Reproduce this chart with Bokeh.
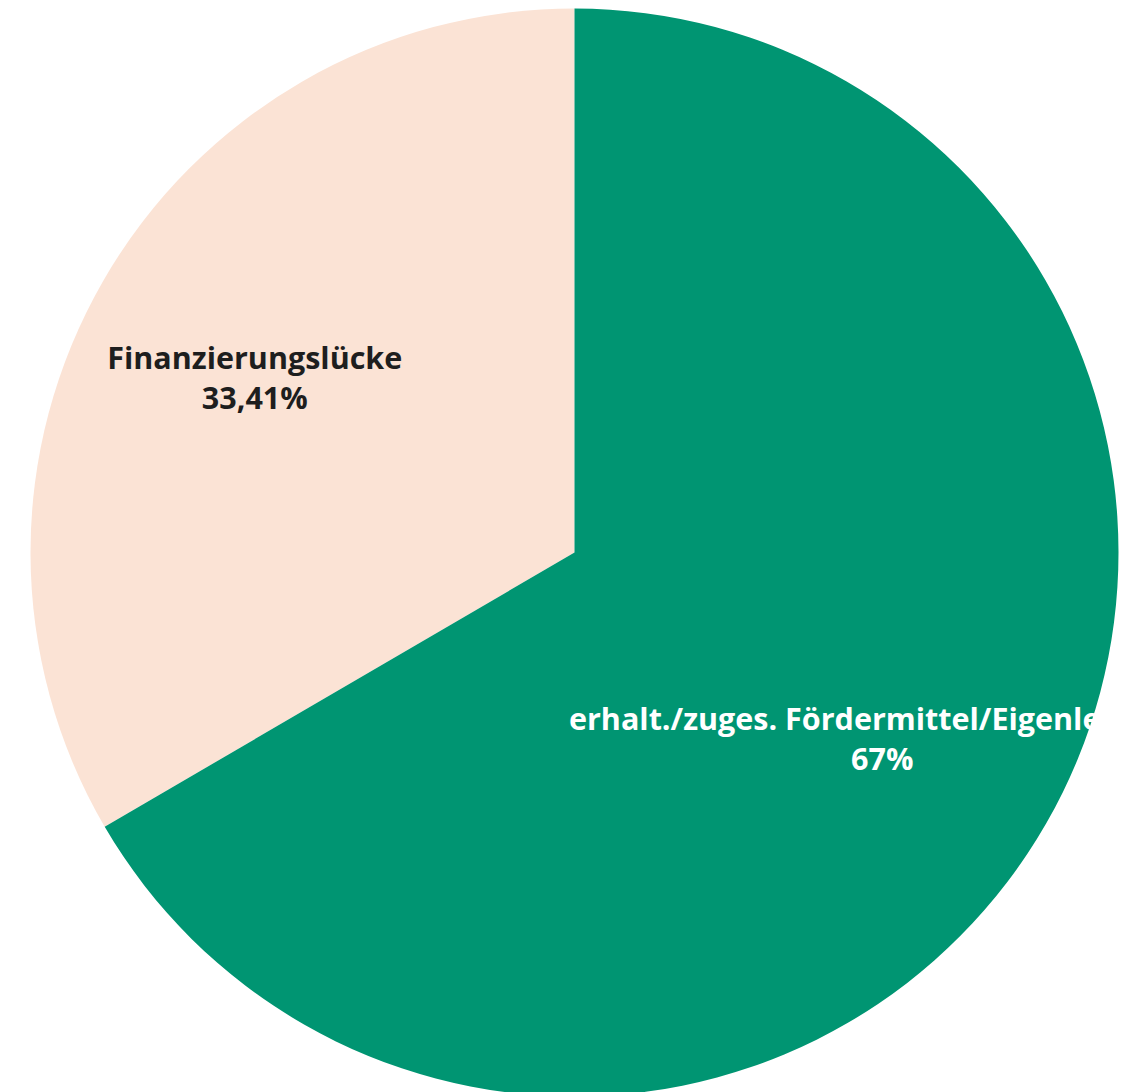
import math
from bokeh.plotting import figure
from bokeh.models import Range1d, ColumnDataSource
from bokeh.core.properties import value
from bokeh.embed import file_html
from bokeh.resources import INLINE

# Data
categories = ["Finanzierungslücke", "erhalt./zuges. Fördermittel/Eigenleistung"]
shares = [33.41, 66.59]
share_labels = ["33,41%", "67%"]
colors = ["#fbe3d5", "#009572"]
text_colors = ["#1e1e1e", "#ffffff"]

W, H = 1124, 1092
cx, cy = 574, H - 552
R = 544

p = figure(width=W, height=H, output_backend="svg", toolbar_location=None,
           x_range=Range1d(0, W), y_range=Range1d(0, H), min_border=0)
p.axis.visible = False
p.grid.visible = False
p.outline_line_color = None
p.background_fill_color = "white"
p.border_fill_color = "white"

total = sum(shares)
starts, ends, lx, ly, texts = [], [], [], [], []
a = math.pi / 2
for cat, s, lab in zip(categories, shares, share_labels):
    span = s / total * 2 * math.pi
    starts.append(a)
    ends.append(a + span)
    mid = a + span / 2
    lx.append(cx + 0.665 * R * math.cos(mid) - 6)
    ly.append(cy + 0.665 * R * math.sin(mid) - 5)
    texts.append(cat + "\n" + lab)
    a += span

src = ColumnDataSource(dict(start=starts, end=ends, color=colors,
                            lx=lx, ly=ly, text=texts, tcolor=text_colors))
p.wedge(x=cx, y=cy, radius=R, start_angle="start", end_angle="end",
        direction="anticlock", fill_color="color", line_color=None, source=src)
p.text(x="lx", y="ly", text="text", text_color="tcolor", source=src,
       text_align="center", text_baseline="middle",
       text_font=value("Open Sans"), text_font_size="30.5px",
       text_font_style="bold", text_line_height=0.95)

open("out.html", "w").write(file_html(p, INLINE))
